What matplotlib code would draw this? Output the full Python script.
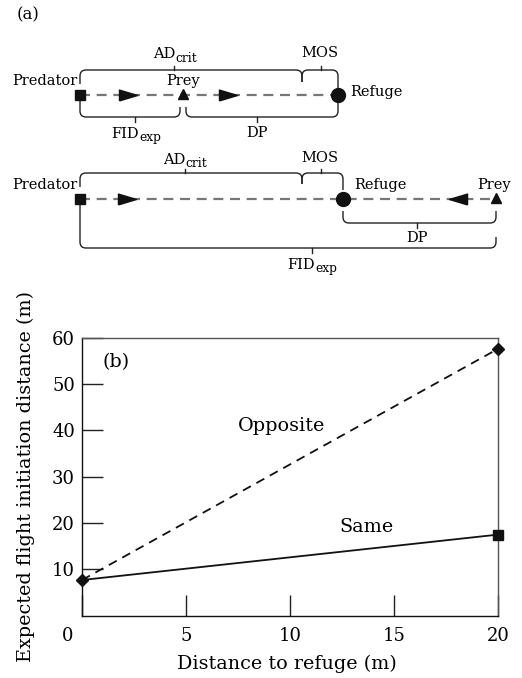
import matplotlib
matplotlib.use("Agg")
import matplotlib.pyplot as plt
from matplotlib.path import Path
from matplotlib.patches import PathPatch
import matplotlib.transforms as mtransforms

plt.rcParams['font.family'] = ['DejaVu Serif']

# ---- data for panel (b) ----
distance = [0, 20]
opposite = [7.7, 57.6]
same = [7.7, 17.5]
xtick_vals = [0, 5, 10, 15, 20]
ytick_vals = [10, 20, 30, 40, 50, 60]

W, H = 522, 678
fig = plt.figure(figsize=(W / 100, H / 100), dpi=100)
renderer = fig.canvas.get_renderer()

# ---- panel (a): schematic in pixel coordinates ----
axd = fig.add_axes([0, 0, 1, 1])
axd.set_xlim(0, W)
axd.set_ylim(H, 0)
axd.axis('off')

ARROW_R = [(-1.0, -0.6), (1.0, 0.0), (-1.0, 0.6), (-1.0, -0.6)]
ARROW_L = [(1.0, -0.6), (-1.0, 0.0), (1.0, 0.6), (1.0, -0.6)]

def brace(ax, x0, x1, yb, yl, yr, r=6, tick=None, tdir=-1):
    """horizontal bracket at level yb, ends turning to yl (left) and yr (right)."""
    sl = 1 if yl > yb else -1
    sr = 1 if yr > yb else -1
    verts = [(x0, yl), (x0, yb + sl * r), (x0, yb), (x0 + r, yb),
             (x1 - r, yb), (x1, yb), (x1, yb + sr * r), (x1, yr)]
    codes = [Path.MOVETO, Path.LINETO, Path.CURVE3, Path.CURVE3,
             Path.LINETO, Path.CURVE3, Path.CURVE3, Path.LINETO]
    ax.add_patch(PathPatch(Path(verts, codes), fill=False, lw=1.0, color='#222222'))
    if tick is not None:
        ax.plot([tick, tick], [yb, yb + tdir * 4.5], color='#222222', lw=1.0)

def dashed(ax, x0, x1, y):
    ax.plot([x0, x1], [y, y], ls=(0, (4.5, 3)), color='#777777', lw=1.6, zorder=1)

def sub_text(ax, xc, yb, main, sub, fs=10.5, sfs=8.8, drop=3):
    t1 = ax.text(0, yb, main, fontsize=fs, ha='left', va='baseline')
    t2 = ax.text(0, yb + drop, sub, fontsize=sfs, ha='left', va='baseline')
    w1 = t1.get_window_extent(renderer).width
    w2 = t2.get_window_extent(renderer).width
    x0 = xc - (w1 + w2) / 2
    t1.set_x(x0)
    t2.set_x(x0 + w1 + 0.5)

fs_a = 10.5
axd.text(17, 15, '(a)', fontsize=12, va='center', ha='left')

# Row 1
y1 = 95
dashed(axd, 80, 338, y1)
axd.plot(80, y1, 's', color='#111111', ms=7.5, zorder=3)
axd.plot(183, y1 - 1, '^', color='#111111', ms=7.5, zorder=3)
axd.plot(338, y1, 'o', color='#111111', ms=10, zorder=3)
axd.plot(128, y1, marker=ARROW_R, color='#111111', ms=13, zorder=3)
axd.plot(228, y1, marker=ARROW_R, color='#111111', ms=13, zorder=3)
brace(axd, 80, 302, 70, 84, 82, tick=174, tdir=-1)
brace(axd, 302, 338, 70, 82, 88, tick=321, tdir=-1)
brace(axd, 80, 180, 117, 101, 107, tick=135, tdir=1)
brace(axd, 186, 338, 117, 107, 101, tick=257, tdir=1)
axd.text(77, 81, 'Predator', fontsize=fs_a, ha='right', va='center')
axd.text(183, 81, 'Prey', fontsize=fs_a, ha='center', va='center')
axd.text(350, 92, 'Refuge', fontsize=fs_a, ha='left', va='center')
sub_text(axd, 175, 58.5, 'AD', 'crit')
axd.text(320, 53, 'MOS', fontsize=fs_a, ha='center', va='center')
sub_text(axd, 136, 137.5, 'FID', 'exp')
axd.text(257, 133, 'DP', fontsize=fs_a, ha='center', va='center')

# Row 2
y2 = 199
dashed(axd, 80, 496, y2)
axd.plot(80, y2, 's', color='#111111', ms=7.5, zorder=3)
axd.plot(343, y2, 'o', color='#111111', ms=10, zorder=3)
axd.plot(496, y2 - 1, '^', color='#111111', ms=7.5, zorder=3)
axd.plot(127, y2, marker=ARROW_R, color='#111111', ms=13, zorder=3)
axd.plot(458, y2, marker=ARROW_L, color='#111111', ms=13, zorder=3)
brace(axd, 80, 302, 173, 187, 184, tick=185, tdir=-1)
brace(axd, 302, 343, 173, 184, 190, tick=321, tdir=-1)
brace(axd, 343, 496, 223, 211, 211, tick=417, tdir=1)
brace(axd, 80, 496, 248, 204, 237, tick=312, tdir=1)
axd.text(77, 185, 'Predator', fontsize=fs_a, ha='right', va='center')
axd.text(354, 185, 'Refuge', fontsize=fs_a, ha='left', va='center')
axd.text(494, 185, 'Prey', fontsize=fs_a, ha='center', va='center')
sub_text(axd, 185, 164, 'AD', 'crit')
axd.text(320, 158, 'MOS', fontsize=fs_a, ha='center', va='center')
axd.text(417, 238, 'DP', fontsize=fs_a, ha='center', va='center')
sub_text(axd, 312, 269, 'FID', 'exp')

# ---- panel (b) ----
left, right, top, bottom = 82, 498, 337.7, 615.7
aw, ah = right - left, bottom - top
ax = fig.add_axes([left / W, 1 - bottom / H, aw / W, ah / H])
ax.plot(distance, opposite, ls=(0, (5, 3.5)), color='#111111', lw=1.3,
        marker='D', ms=6, clip_on=False, zorder=3)
ax.plot(distance, same, ls='-', color='#111111', lw=1.3, clip_on=False, zorder=3)
ax.plot(distance[-1:], same[-1:], 's', color='#111111', ms=7, clip_on=False, zorder=4)
ax.set_xlim(0, 20)
ax.set_ylim(0, 60)
ax.set_xticks(xtick_vals)
ax.set_xticklabels([str(v) for v in xtick_vals])
ax.set_yticks(ytick_vals)
ax.set_yticklabels([str(v) for v in ytick_vals])
ax.tick_params(direction='in', length=15, width=1.0, labelsize=13, color='#222222')
ax.tick_params(axis='x', pad=8)
ax.tick_params(axis='y', pad=5)
offset = mtransforms.ScaledTranslation(-14 / 100, 0, fig.dpi_scale_trans)
lab0 = ax.get_xticklabels()[0]
lab0.set_transform(lab0.get_transform() + offset)
for s in ['left', 'bottom']:
    ax.spines[s].set_color('#111111')
    ax.spines[s].set_linewidth(1.0)
for s in ['top', 'right']:
    ax.spines[s].set_color('#555555')
    ax.spines[s].set_linewidth(1.0)
ax.set_xlabel('Distance to refuge (m)', fontsize=13.8)
ax.set_ylabel('Expected flight initiation distance (m)', fontsize=13.8)
ax.xaxis.set_label_coords((287 - left) / aw, (bottom - 655) / ah)
ax.yaxis.set_label_coords((35 - left) / aw, 0.5)
ax.text((116 - left) / aw, (bottom - 362) / ah, '(b)', transform=ax.transAxes,
        fontsize=13.8, ha='center', va='center')
ax.text(9.6, 40.9, 'Opposite', fontsize=13.8, ha='center', va='center')
ax.text(13.7, 19.1, 'Same', fontsize=13.8, ha='center', va='center')

fig.savefig('out.png', dpi=100)
